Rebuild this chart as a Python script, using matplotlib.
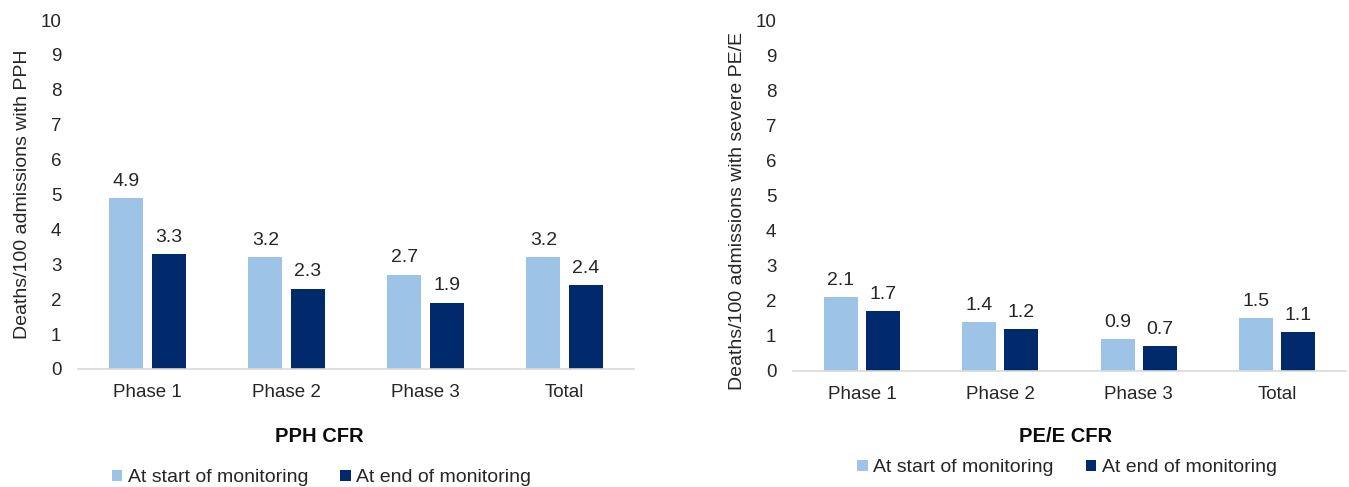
import matplotlib.pyplot as plt
import numpy as np

plt.rcParams['font.family'] = ['Liberation Sans', 'DejaVu Sans']

# Case fatality rates per 100 admissions
phases = ['Phase 1', 'Phase 2', 'Phase 3', 'Total']
pph_start = [4.9, 3.2, 2.7, 3.2]
pph_end = [3.3, 2.3, 1.9, 2.4]
pe_start = [2.1, 1.4, 0.9, 1.5]
pe_end = [1.7, 1.2, 0.7, 1.1]

series_names = ['At start of monitoring', 'At end of monitoring']
light = '#9dc3e6'
dark = '#002a6c'
txt = '#262626'

fig = plt.figure(figsize=(13.49, 4.87), dpi=100)
ax1 = fig.add_axes([0.0578, 0.2423, 0.4122, 0.7166])
ax2 = fig.add_axes([0.5878, 0.2382, 0.4100, 0.7207])

w = 0.245
offset = 0.152


def draw_panel(ax, start, end, ylabel):
    x = np.arange(len(phases))
    b1 = ax.bar(x - offset, start, w, color=light, label=series_names[0])
    b2 = ax.bar(x + offset, end, w, color=dark, label=series_names[1])
    for bars, vals in ((b1, start), (b2, end)):
        for rect, v in zip(bars, vals):
            ax.annotate(f'{v:.1f}', (rect.get_x() + rect.get_width() / 2, v),
                        xytext=(0, 6), textcoords='offset points',
                        ha='center', va='bottom', fontsize=14, color=txt)
    ax.set_xlim(-0.5, len(phases) - 0.5)
    ax.set_ylim(0, 10)
    ax.set_yticks(range(0, 11))
    ax.set_xticks(x)
    ax.set_xticklabels(phases)
    ax.tick_params(axis='both', length=0, labelsize=13.5, colors=txt)
    ax.tick_params(axis='x', pad=11)
    ax.tick_params(axis='y', pad=12)
    for s in ('top', 'right', 'left'):
        ax.spines[s].set_visible(False)
    ax.spines['bottom'].set_color('#d9d9d9')
    ax.spines['bottom'].set_linewidth(1.2)
    ax.set_ylabel(ylabel, fontsize=14, color=txt, labelpad=7)
    return b1, b2


draw_panel(ax1, pph_start, pph_end, 'Deaths/100 admissions with PPH')
draw_panel(ax2, pe_start, pe_end, 'Deaths/100 admissions with severe PE/E')
# the longer label sits a little below the axis centre
ax2.yaxis.label.set_y(0.455)

# Panel titles below the axes
fig.text(319 / 1349, 1 - 437 / 487, 'PPH CFR', ha='center', va='center',
         fontsize=14.5, fontweight='bold', color='#0d0d0d')
fig.text(1066 / 1349, 1 - 437 / 487, 'PE/E CFR', ha='center', va='center',
         fontsize=14.5, fontweight='bold', color='#0d0d0d')

leg_kw = dict(ncol=2, frameon=False, fontsize=14, handlelength=0.55,
              handleheight=0.55, handletextpad=0.27, columnspacing=1.65,
              labelcolor=txt, borderpad=0, borderaxespad=0)
ax1.legend(loc='center', bbox_to_anchor=(321.5 / 1349, 1 - 478 / 487),
           bbox_transform=fig.transFigure, **leg_kw)
ax2.legend(loc='center', bbox_to_anchor=(1067 / 1349, 1 - 468 / 487),
           bbox_transform=fig.transFigure, **leg_kw)

fig.savefig('out.png', dpi=100)
